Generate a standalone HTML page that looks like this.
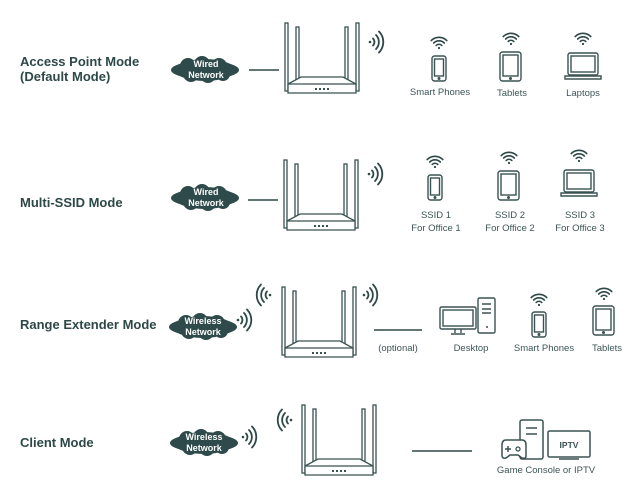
<!DOCTYPE html>
<html><head><meta charset="utf-8"><style>
html,body{margin:0;padding:0;background:#fff;}
svg{display:block;font-family:"Liberation Sans",sans-serif;}
.t{font-size:13px;font-weight:bold;fill:#2e4848;}
.l{font-size:9.5px;fill:#3d5555;text-anchor:middle;}
.c{font-size:9px;font-weight:bold;fill:#fff;text-anchor:middle;}
</style></head><body>
<svg width="640" height="480" viewBox="0 0 640 480" xmlns="http://www.w3.org/2000/svg">
<defs>
<g id="router" fill="#fff" stroke="#3a5252" stroke-width="1.3">
 <rect x="0" y="0" width="3" height="68"/>
 <rect x="11" y="4" width="3" height="54"/>
 <rect x="60" y="4" width="3" height="54"/>
 <rect x="71" y="0" width="3" height="68"/>
 <path d="M3 61 L16 54 L58 54 L71 61 L71 70 L3 70 Z"/>
 <path d="M3 61 L71 61"/>
 <g fill="#3a5252" stroke="none"><rect x="30" y="65" width="2" height="2"/><rect x="34" y="65" width="2" height="2"/><rect x="38" y="65" width="2" height="2"/><rect x="42" y="65" width="2" height="2"/></g>
</g>
<g id="wr" fill="none" stroke="#2e4848" stroke-width="1.8" stroke-linecap="round">
 <circle cx="0" cy="0" r="1.3" fill="#2e4848" stroke="none"/>
 <path d="M3 -3.5 A5 5 0 0 1 3 3.5"/><path d="M6 -7 A10 10 0 0 1 6 7"/><path d="M9 -10.5 A15 15 0 0 1 9 10.5"/>
</g>
<g id="wu" fill="none" stroke="#2e4848" stroke-width="1.6" stroke-linecap="round">
 <circle cx="0" cy="0" r="1.1" fill="#2e4848" stroke="none"/>
 <path d="M-2.8 -2.6 A4 4 0 0 1 2.8 -2.6"/><path d="M-5.3 -5 A7.5 7.5 0 0 1 5.3 -5"/><path d="M-7.8 -7.4 A11 11 0 0 1 7.8 -7.4"/>
</g>
<g id="cloud" fill="#2e4a4a">
 <ellipse cx="0" cy="0" rx="34" ry="9"/>
 <ellipse cx="0" cy="0" rx="30" ry="11"/>
 <circle cx="-17" cy="-4" r="8"/><circle cx="-3" cy="-6" r="8"/><circle cx="14" cy="-4" r="8"/>
 <circle cx="-14" cy="4" r="8"/><circle cx="3" cy="5" r="8"/><circle cx="18" cy="4" r="7"/>
</g>
<g id="phone" fill="none" stroke="#3a5252" stroke-width="1.4">
 <rect x="0" y="0" width="14" height="25" rx="2.5"/><rect x="2.5" y="3" width="9" height="17"/>
 <circle cx="7" cy="22.5" r="0.8" fill="#3a5252"/>
</g>
<g id="tablet" fill="none" stroke="#3a5252" stroke-width="1.4">
 <rect x="0" y="0" width="21" height="29" rx="2.5"/><rect x="3" y="3" width="15" height="21"/>
 <circle cx="10.5" cy="26.5" r="0.8" fill="#3a5252"/>
</g>
<g id="laptop" fill="none" stroke="#3a5252" stroke-width="1.4">
 <rect x="3" y="0" width="30" height="22" rx="2"/><rect x="6" y="3" width="24" height="16"/>
 <path d="M0 23 H36 V26 H0 Z"/>
</g>
</defs>

<text class="t" x="20" y="66">Access Point Mode</text>
<text class="t" x="20" y="81">(Default Mode)</text>
<text class="t" x="20" y="207">Multi-SSID Mode</text>
<text class="t" x="20" y="329">Range Extender Mode</text>
<text class="t" x="20" y="447">Client Mode</text>

<!-- row 1 -->
<use href="#cloud" x="205" y="70"/>
<text class="c" x="206" y="67">Wired</text><text class="c" x="206" y="78">Network</text>
<line x1="249" y1="70" x2="279" y2="70" stroke="#2e4848" stroke-width="1.5"/>
<use href="#router" x="285" y="23"/>
<use href="#wr" x="370" y="42"/>
<use href="#wu" x="439" y="48"/><use href="#phone" x="432" y="56"/>
<use href="#wu" x="511" y="44"/><use href="#tablet" x="500" y="52"/>
<use href="#wu" x="583" y="44"/><use href="#laptop" x="565" y="53"/>
<text class="l" x="440" y="95">Smart Phones</text>
<text class="l" x="512" y="96">Tablets</text>
<text class="l" x="583" y="96">Laptops</text>

<!-- row 2 -->
<use href="#cloud" x="205" y="198"/>
<text class="c" x="206" y="195">Wired</text><text class="c" x="206" y="206">Network</text>
<line x1="248" y1="200" x2="278" y2="200" stroke="#2e4848" stroke-width="1.5"/>
<use href="#router" x="284" y="160"/>
<use href="#wr" x="369" y="174"/>
<use href="#wu" x="435" y="167"/><use href="#phone" x="428" y="175"/>
<use href="#wu" x="509" y="163"/><use href="#tablet" x="498" y="171"/>
<use href="#wu" x="579" y="161"/><use href="#laptop" x="561" y="170"/>
<text class="l" x="436" y="218">SSID 1</text><text class="l" x="436" y="231">For Office 1</text>
<text class="l" x="510" y="218">SSID 2</text><text class="l" x="510" y="231">For Office 2</text>
<text class="l" x="580" y="218">SSID 3</text><text class="l" x="580" y="231">For Office 3</text>

<!-- row 3 -->
<use href="#cloud" x="203" y="327"/>
<text class="c" x="203" y="324">Wireless</text><text class="c" x="203" y="335">Network</text>
<use href="#wr" x="238" y="320"/>
<use href="#wr" x="270" y="295" transform="rotate(180 270 295)"/>
<use href="#router" x="282" y="287"/>
<use href="#wr" x="364" y="295"/>
<line x1="374" y1="330" x2="422" y2="330" stroke="#2e4848" stroke-width="1.5"/>
<text class="l" x="398" y="351">(optional)</text>
<g fill="none" stroke="#3a5252" stroke-width="1.4">
 <rect x="440" y="307" width="36" height="22" rx="1.5"/><rect x="443" y="310" width="30" height="16"/>
 <path d="M455 329 V333 M461 329 V333 M451 334 H465"/>
 <rect x="478" y="298" width="17" height="35" rx="1.5"/>
 <path d="M482 304 H491 M482 309 H491 M482 313 H491"/>
</g>
<circle cx="487" cy="327" r="1" fill="#3a5252"/>
<text class="l" x="471" y="351">Desktop</text>
<use href="#wu" x="539" y="305"/><use href="#phone" x="532" y="312"/>
<use href="#wu" x="604" y="299"/><use href="#tablet" x="593" y="306"/>
<text class="l" x="544" y="351">Smart Phones</text>
<text class="l" x="607" y="351">Tablets</text>

<!-- row 4 -->
<use href="#cloud" x="204" y="443"/>
<text class="c" x="204" y="440">Wireless</text><text class="c" x="204" y="451">Network</text>
<use href="#wr" x="243" y="437"/>
<use href="#wr" x="291" y="420" transform="rotate(180 291 420)"/>
<use href="#router" x="302" y="405"/>
<line x1="412" y1="451" x2="472" y2="451" stroke="#2e4848" stroke-width="1.5"/>
<g fill="#fff" stroke="#3a5252" stroke-width="1.5">
 <rect x="520" y="420" width="23" height="39" rx="2"/>
 <path d="M526 428 H537 M526 434 H537" />
 <path d="M506 440 H522 Q526 440 526 445 V456 Q526 459 522 458 L518 455 H510 L506 458 Q502 459 502 455 V445 Q502 440 506 440 Z"/>
 <rect x="548" y="431" width="42" height="26" rx="1.5"/>
 <path d="M559 459 H579"/>
</g>
<path d="M508 446 V452 M505 449 H511" stroke="#3a5252" stroke-width="1.5"/>
<circle cx="518" cy="449" r="2" fill="none" stroke="#3a5252" stroke-width="1.3"/>
<text x="569" y="448" font-size="8.5" font-weight="bold" fill="#3a5252" text-anchor="middle">IPTV</text>
<text class="l" x="546" y="473">Game Console or IPTV</text>
</svg>
</body></html>
